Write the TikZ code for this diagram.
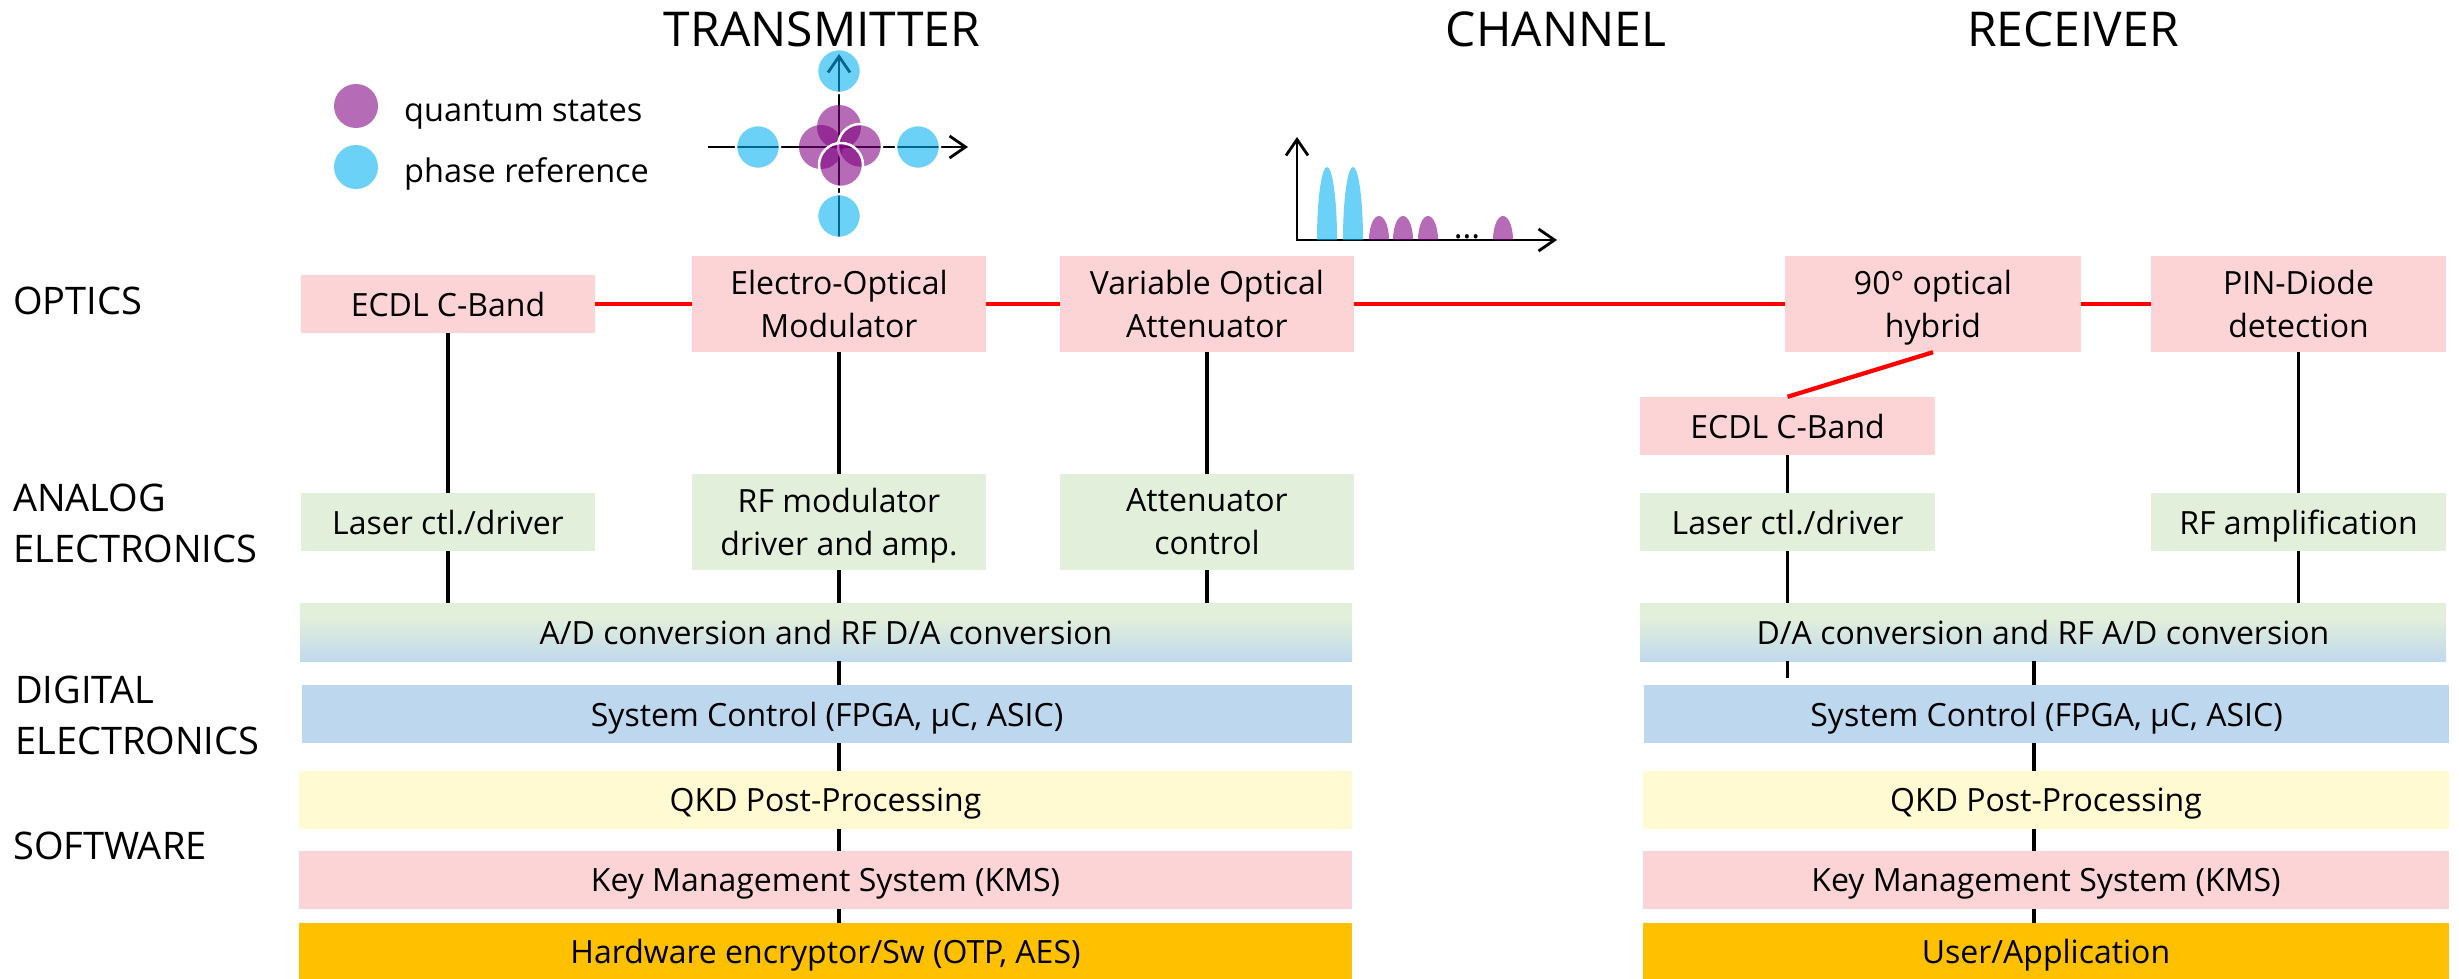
\documentclass[tikz,border=0pt]{standalone}
\usepackage{fontspec}
\setmainfont{Open Sans}
\usetikzlibrary{arrows.meta}
\definecolor{boxpink}{RGB}{253,212,213}
\definecolor{boxgreen}{RGB}{226,239,218}
\definecolor{boxblue}{RGB}{189,215,238}
\definecolor{boxyellow}{RGB}{255,250,210}
\definecolor{boxorange}{RGB}{255,192,0}
\definecolor{qpurple}{RGB}{128,0,128}
\definecolor{qblue}{RGB}{0,176,240}
\definecolor{optred}{RGB}{255,0,0}
\pgfdeclareverticalshading{adshade}{100bp}{color(0bp)=(boxblue); color(22bp)=(boxblue); color(62bp)=(boxgreen); color(100bp)=(boxgreen)}
\newcommand{\pulseshape}[4]{%
  \path[#4] (#1,240) .. controls (#1,{240-0.552*#3}) and ({#1+#2/2-0.276*#2},{240-#3}) .. ({#1+#2/2},{240-#3})
    .. controls ({#1+#2/2+0.276*#2},{240-#3}) and ({#1+#2},{240-0.552*#3}) .. ({#1+#2},240) -- cycle;}
\begin{document}
\begin{tikzpicture}[x=1pt,y=-1pt,
  barbtip/.tip={Straight Barb[length=16pt,width=22pt]},
  box/.style={inner sep=0pt, align=center, text depth=0pt, font=\fontsize{32}{43}\selectfont},
  pinkbox/.style={box, fill=boxpink},
  greenbox/.style={box, fill=boxgreen},
  bluebox/.style={box, fill=boxblue},
  yellowbox/.style={box, fill=boxyellow},
  orangebox/.style={box, fill=boxorange},
  gradbox/.style={box, shading=adshade},
  wire/.style={line width=3.2pt, black},
  fiber/.style={line width=4.3pt, optred},
  axisline/.style={line width=2.8pt, black},
  head/.style={anchor=base, inner sep=0pt, font=\fontsize{48}{58}\selectfont},
  layer/.style={anchor=base west, inner sep=0pt, font=\fontsize{38}{51}\selectfont},
  legtext/.style={anchor=base west, inner sep=0pt, font=\fontsize{32.5}{45}\selectfont},
  qstate/.style={fill=qpurple, fill opacity=0.58},
  qstatew/.style={fill=qpurple, fill opacity=0.58, draw=white, line width=2.5pt},
  refstate/.style={fill=qblue, fill opacity=0.58, draw=white, line width=2.5pt},
  pulseQ/.style={fill=qpurple, fill opacity=0.58},
  pulseR/.style={fill=qblue, fill opacity=0.58}
]
\useasboundingbox (0,0) rectangle (2459,979);

% headings
\node[head] (hTx) at (822,47) {TRANSMITTER};
\node[head] (hCh) at (1556,47) {CHANNEL};
\node[head] (hRx) at (2073,47) {RECEIVER};

% layer labels
\node[layer] (lOpt) at (13,314) {OPTICS};
\node[layer] (lAna1) at (13,511) {ANALOG};
\node[layer] (lAna2) at (13,562) {ELECTRONICS};
\node[layer] (lDig1) at (15,703) {DIGITAL};
\node[layer] (lDig2) at (15,754) {ELECTRONICS};
\node[layer] (lSw) at (13,859) {SOFTWARE};

% legend
\path[qstate] (356,106) circle[radius=22pt];
\path[refstate, draw=none] (356,167) circle[radius=22pt];
\node[legtext] (legQ) at (404,122) {quantum states};
\node[legtext] (legR) at (404,182) {phase reference};

% constellation
\draw[axisline, -{barbtip}] (708,147) -- (968,147);
\draw[axisline, -{barbtip}] (839,238) -- (839,54);
\path[refstate] (839,71) circle[radius=22pt];
\path[refstate] (758,147) circle[radius=22pt];
\path[refstate] (918,147) circle[radius=22pt];
\path[refstate] (839,216) circle[radius=22pt];
\path[qstate] (839,127) circle[radius=22pt];
\path[qstate] (821,147) circle[radius=22pt];
\path[qstatew] (860,146) circle[radius=22pt];
\path[qstatew] (841,165) circle[radius=22pt];

% pulse train
\draw[axisline, {barbtip}-{barbtip}] (1297,137) -- (1297,240) -- (1557,240);
\pulseshape{1317}{20}{73}{pulseR}
\pulseshape{1343}{20}{73}{pulseR}
\pulseshape{1369}{20}{24}{pulseQ}
\pulseshape{1393}{20}{24}{pulseQ}
\pulseshape{1418}{20}{24}{pulseQ}
\pulseshape{1493}{20}{24}{pulseQ}
\node[anchor=base, inner sep=0pt, font=\fontsize{33}{45}\selectfont] (dots) at (1467,238) {...};

% transmitter boxes
\node[pinkbox, minimum width=294pt, minimum height=58pt] (ecdlT) at (448,304) {ECDL C-Band};
\node[pinkbox, minimum width=294pt, minimum height=96pt] (eom) at (839,304) {Electro-Optical\\Modulator};
\node[pinkbox, minimum width=294pt, minimum height=96pt] (voa) at (1207,304) {Variable Optical\\Attenuator};
\node[greenbox, minimum width=294pt, minimum height=58pt] (laserT) at (448,522) {Laser ctl./driver};
\node[greenbox, minimum width=294pt, minimum height=96pt] (rfmod) at (839,522) {RF modulator\\driver and amp.};
\node[greenbox, minimum width=294pt, minimum height=96pt] (attc) at (1207,522) {Attenuator\\control};
\node[gradbox, minimum width=1052pt, minimum height=58pt] (adT) at (826,632) {A/D conversion and RF D/A conversion};
\node[bluebox, minimum width=1050pt, minimum height=58pt] (scT) at (827,714) {System Control (FPGA, µC, ASIC)};
\node[yellowbox, minimum width=1053pt, minimum height=58pt] (qkdT) at (825.5,800) {QKD Post-Processing};
\node[pinkbox, minimum width=1053pt, minimum height=58pt] (kmsT) at (825.5,880) {Key Management System (KMS)};
\node[orangebox, minimum width=1053pt, minimum height=56pt] (hwT) at (825.5,951) {Hardware encryptor/Sw (OTP, AES)};

% receiver boxes
\node[pinkbox, minimum width=296pt, minimum height=96pt] (hyb) at (1933,304) {90° optical\\hybrid};
\node[pinkbox, minimum width=295pt, minimum height=96pt] (pin) at (2298.5,304) {PIN-Diode\\detection};
\node[pinkbox, minimum width=295pt, minimum height=58pt] (ecdlR) at (1787.5,426) {ECDL C-Band};
\node[greenbox, minimum width=295pt, minimum height=58pt] (laserR) at (1787.5,522) {Laser ctl./driver};
\node[greenbox, minimum width=295pt, minimum height=58pt] (rfamp) at (2298.5,522) {RF amplification};
\node[gradbox, minimum width=806pt, minimum height=58pt] (daR) at (2043,632) {D/A conversion and RF A/D conversion};
\node[bluebox, minimum width=805pt, minimum height=58pt] (scR) at (2046.5,714) {System Control (FPGA, µC, ASIC)};
\node[yellowbox, minimum width=806pt, minimum height=58pt] (qkdR) at (2046,800) {QKD Post-Processing};
\node[pinkbox, minimum width=806pt, minimum height=58pt] (kmsR) at (2046,880) {Key Management System (KMS)};
\node[orangebox, minimum width=806pt, minimum height=56pt] (userR) at (2046,951) {User/Application};

% optical fiber links
\draw[fiber] (ecdlT) -- (eom);
\draw[fiber] (eom) -- (voa);
\draw[fiber] (voa) -- (hyb);
\draw[fiber] (hyb) -- (pin);
\draw[fiber] (hyb.south) -- (ecdlR.north);

% transmitter wires
\draw[wire] (ecdlT) -- (laserT);
\draw[wire] (laserT.south) -- (laserT.south |- adT.north);
\draw[wire] (eom) -- (rfmod);
\draw[wire] (rfmod.south) -- (rfmod.south |- adT.north);
\draw[wire] (voa) -- (attc);
\draw[wire] (attc.south) -- (attc.south |- adT.north);
\draw[wire] (eom.south |- adT.south) -- (eom.south |- scT.north);
\draw[wire] (eom.south |- scT.south) -- (eom.south |- qkdT.north);
\draw[wire] (eom.south |- qkdT.south) -- (eom.south |- kmsT.north);
\draw[wire] (eom.south |- kmsT.south) -- (eom.south |- hwT.north);

% receiver wires
\coordinate (stub) at (1787.5,678);
\coordinate (midR) at (2034,632);
\draw[wire] (ecdlR) -- (laserR);
\draw[wire] (laserR.south) -- (laserR.south |- daR.north);
\draw[wire] (laserR.south |- daR.south) -- (stub);
\draw[wire] (pin) -- (rfamp);
\draw[wire] (rfamp.south) -- (rfamp.south |- daR.north);
\draw[wire] (midR |- daR.south) -- (midR |- scR.north);
\draw[wire] (midR |- scR.south) -- (midR |- qkdR.north);
\draw[wire] (midR |- qkdR.south) -- (midR |- kmsR.north);
\draw[wire] (midR |- kmsR.south) -- (midR |- userR.north);
\end{tikzpicture}
\end{document}
